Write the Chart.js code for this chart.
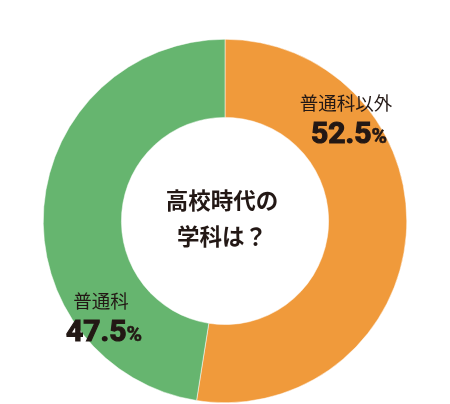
<!DOCTYPE html>
<html>
<head>
<meta charset="utf-8">
<script src="https://cdn.jsdelivr.net/npm/chart.js@4/dist/chart.umd.min.js"></script>
<style>
  html, body { margin: 0; padding: 0; background: #fff; }
  #wrap { width: 450px; height: 404px; }
</style>
</head>
<body>
<div id="wrap"><canvas id="donut"></canvas></div>
<script>
const categories = ['普通科以外', '普通科'];
const shares = [52.5, 47.5];
const colors = ['#F09A3B', '#66B56F'];
const centerLines = ['高校時代の', '学科は？'];

const textColor = '#231815';

// label offsets from the chart centre, one per slice
const labelOffsets = [{ dx: 121, dy: -118 }, { dx: -124, dy: 80 }];

const labelPlugin = {
  id: 'labels',
  afterDraw(chart) {
    const ctx = chart.ctx;
    const arc = chart.getDatasetMeta(0).data[0];
    const cx = arc.x, cy = arc.y;

    ctx.save();
    ctx.fillStyle = textColor;
    ctx.strokeStyle = textColor;
    ctx.textAlign = 'center';
    ctx.textBaseline = 'middle';
    ctx.font = 'bold 22.5px "Noto Sans CJK JP"';
    ctx.fillText(centerLines[0], cx - 3, cy - 21);
    ctx.fillText(centerLines[1], cx - 3, cy + 15);

    categories.forEach((name, i) => {
      const x = cx + labelOffsets[i].dx;
      const y = cy + labelOffsets[i].dy;
      ctx.textAlign = 'center';
      ctx.textBaseline = 'middle';
      ctx.font = '18.5px "Noto Sans CJK JP"';
      ctx.fillText(name, x, y);

      const num = shares[i].toFixed(1);
      ctx.lineWidth = 1.2;
      ctx.font = 'bold 30px Roboto';
      const wNum = ctx.measureText(num).width;
      ctx.font = 'bold 21px Roboto';
      const wPct = ctx.measureText('%').width;
      const left = x + 3 - (wNum + wPct) / 2;
      ctx.textAlign = 'left';
      ctx.textBaseline = 'alphabetic';
      ctx.font = 'bold 30px Roboto';
      ctx.fillText(num, left, y + 40);
      ctx.strokeText(num, left, y + 40);
      ctx.font = 'bold 21px Roboto';
      ctx.fillText('%', left + wNum, y + 40);
      ctx.lineWidth = 0.6;
      ctx.strokeText('%', left + wNum, y + 40);
    });
    ctx.restore();
  }
};

new Chart(document.getElementById('donut'), {
  type: 'doughnut',
  data: {
    labels: categories,
    datasets: [{
      data: shares,
      backgroundColor: colors,
      borderColor: '#ffffff',
      borderWidth: 0.5
    }]
  },
  options: {
    responsive: true,
    maintainAspectRatio: false,
    animation: false,
    cutout: '57%',
    layout: { padding: { top: 39, bottom: 1 } },
    plugins: {
      legend: { display: false },
      tooltip: { enabled: false }
    }
  },
  plugins: [labelPlugin]
});
</script>
</body>
</html>
